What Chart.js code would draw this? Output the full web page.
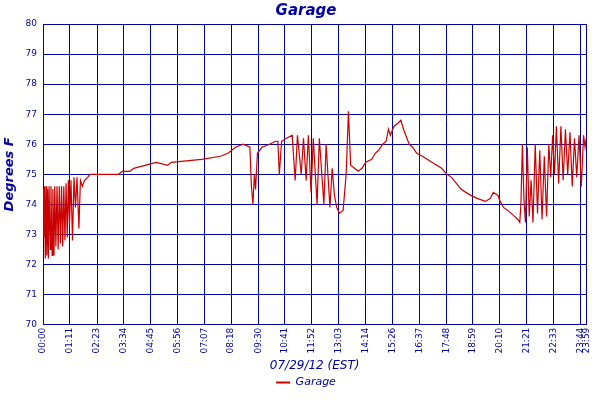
<!DOCTYPE html>
<html><head><meta charset="utf-8">
<script src="https://cdn.jsdelivr.net/npm/chart.js@4/dist/chart.umd.min.js"></script>
<style>html,body{margin:0;padding:0;background:#fff}#w{width:600px;height:400px}</style>
</head><body><div id="w"><canvas id="c"></canvas></div>
<script>
const tickLabels=["00:00","01:11","02:23","03:34","04:45","05:56","07:07","08:18","09:30","10:41","11:52","13:03","14:14","15:26","16:37","17:48","18:59","20:10","21:21","22:33","23:44","23:59"];
const tickMinutes=[0,71,143,214,285,356,427,498,570,641,712,783,854,926,997,1068,1139,1210,1281,1353,1424,1439];
const minutes=[0,2,4,6,8,10,12,14,16,19,21,24,26,29,31,34,37,40,43,46,49,52,55,58,61,64,67,70,74,78,82,86,90,95,99,104,110,118,125,140,200,210,230,240,270,300,330,340,420,470,490,510,530,548,552,556,560,563,568,580,600,615,622,626,632,645,660,668,674,684,690,697,703,710,716,726,732,744,750,760,766,772,778,785,795,803,809,815,825,835,845,855,871,880,889,900,909,915,920,930,940,948,955,961,970,979,990,1005,1030,1056,1070,1082,1095,1108,1120,1133,1150,1172,1185,1193,1205,1211,1220,1231,1240,1249,1258,1263,1266,1270,1274,1278,1283,1288,1293,1298,1304,1310,1316,1322,1328,1334,1340,1345,1350,1355,1360,1366,1372,1378,1384,1390,1396,1402,1408,1414,1420,1426,1432,1436,1439];
const temps=[74.5,72.9,74.6,72.2,74.6,72.3,74.5,72.2,74.6,72.5,74.6,72.3,74.5,72.3,74.6,72.6,74.6,72.5,74.6,72.7,74.6,72.6,74.6,72.8,74.7,72.9,74.8,73.3,74.8,72.8,74.9,73.9,74.9,73.2,74.8,74.6,74.8,74.9,75.0,75.0,75.0,75.1,75.1,75.2,75.3,75.4,75.3,75.4,75.5,75.6,75.7,75.9,76.0,75.9,74.6,74.0,75.0,74.5,75.7,75.9,76.0,76.1,76.1,75.0,76.1,76.2,76.3,74.8,76.3,75.0,76.2,74.8,76.3,74.4,76.2,74.0,76.2,74.0,76.0,73.9,75.2,74.3,73.9,73.7,73.8,75.0,77.1,75.3,75.2,75.1,75.2,75.4,75.5,75.7,75.8,76.0,76.1,76.5,76.3,76.6,76.7,76.8,76.5,76.3,76.0,75.9,75.7,75.6,75.4,75.2,75.0,74.9,74.7,74.5,74.4,74.3,74.2,74.1,74.2,74.4,74.3,74.1,73.9,73.8,73.7,73.6,73.5,73.4,74.0,76.0,74.2,73.4,75.9,73.6,74.8,73.4,76.0,73.7,75.8,73.5,75.6,73.6,76.0,74.9,76.3,75.0,76.6,74.7,76.6,74.8,76.5,75.0,76.4,74.6,76.2,74.9,76.3,74.6,76.3,75.9,76.2];
const navy='#0000a0';
const pts=minutes.map((m,i)=>({x:m,y:temps[i]}));
new Chart(document.getElementById('c'),{
 type:'line',
 data:{datasets:[{label:'Garage',data:pts,borderColor:'#cc0000',backgroundColor:'#cc0000',borderWidth:1.2,pointRadius:0,tension:0,fill:false}]},
 options:{responsive:true,maintainAspectRatio:false,animation:false,
  layout:{padding:{left:2,right:-10,top:0,bottom:2}},
  plugins:{
   title:{display:true,text:'Garage',color:navy,font:{family:'DejaVu Sans',size:15,style:'italic',weight:'bold'},padding:{top:2,bottom:4}},
   legend:{position:'bottom',labels:{color:navy,font:{family:'DejaVu Sans',size:11,style:'italic'},boxWidth:14,boxHeight:0,padding:4,
     generateLabels:(ch)=>[{text:'Garage',strokeStyle:'#cc0000',fillStyle:'#cc0000',lineWidth:2,fontColor:navy}]}},
   tooltip:{enabled:false}},
  scales:{
   x:{type:'linear',min:0,max:1439,
    afterBuildTicks:(ax)=>{ax.ticks=tickMinutes.map(v=>({value:v}));},
    ticks:{autoSkip:false,maxRotation:90,minRotation:90,color:navy,font:{family:'DejaVu Sans',size:9},padding:3,
     callback:(v,i)=>tickLabels[i]},
    grid:{color:navy,lineWidth:1,drawTicks:false},border:{color:navy,width:1},
    title:{display:true,text:'07/29/12 (EST)',color:navy,font:{family:'DejaVu Sans',size:12,style:'italic'},padding:{top:2,bottom:0}}},
   y:{min:70,max:80,
    ticks:{stepSize:1,color:navy,font:{family:'DejaVu Sans',size:9},padding:6},
    grid:{color:navy,lineWidth:1,drawTicks:false},border:{color:navy,width:1},
    title:{display:true,text:'Degrees F',color:navy,font:{family:'DejaVu Sans',size:13,style:'italic',weight:'bold'},padding:{top:0,bottom:2}}}
  }}
});
</script></body></html>
